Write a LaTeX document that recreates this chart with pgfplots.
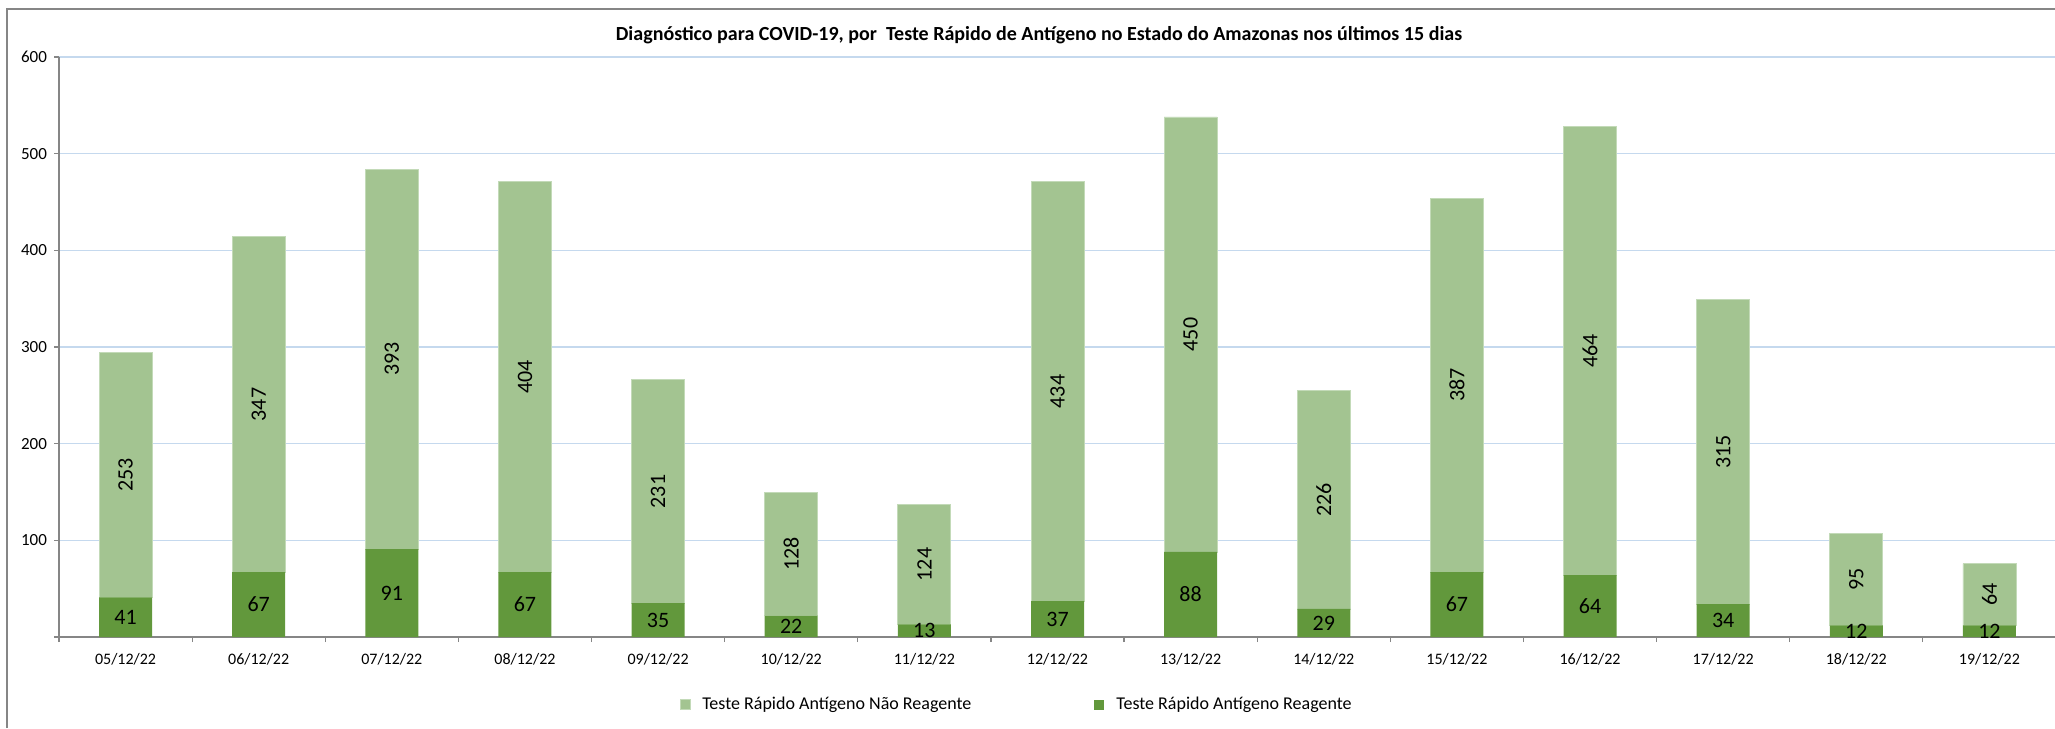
\documentclass[border=0pt]{standalone}
\usepackage{fontspec}
\setmainfont{Carlito}
\usepackage{pgfplots}
\usepackage{pgfplotstable}
\pgfplotsset{compat=1.18}
\definecolor{darkg}{RGB}{98,152,60}
\definecolor{lightg}{RGB}{163,196,145}
\definecolor{lightgb}{RGB}{195,218,184}
\definecolor{gridb}{RGB}{197,217,238}
\definecolor{axg}{RGB}{134,134,134}
\pgfplotstableread{
x r nr
0 41 253
1 67 347
2 91 393
3 67 404
4 35 231
5 22 128
6 13 124
7 37 434
8 88 450
9 29 226
10 67 387
11 64 464
12 34 315
13 12 95
14 12 64
}\data
\begin{document}
\begin{tikzpicture}[x=1pt,y=1pt]
\useasboundingbox (0,0) rectangle (1027.5,364);
\draw[axg, line width=0.7pt] (3.5,0) -- (3.5,359.5) -- (1027.5,359.5);
\node[font=\bfseries\fontsize{10}{12}\selectfont] at (519.5,346.5) {Diagnóstico para COVID-19, por \ Teste Rápido de Antígeno no Estado do Amazonas nos últimos 15 dias};
\begin{axis}[
  at={(29.5pt,45.5pt)}, anchor=south west,
  scale only axis, width=998.5pt, height=290pt,
  xmin=-0.5, xmax=14.5, ymin=0, ymax=600,
  ybar stacked, bar width=26.5pt,
  ytick={0,100,...,600},
  yticklabels={,100,200,300,400,500,600},
  xtick={-0.5,0.5,...,14.5},
  xticklabels={05/12/22,06/12/22,07/12/22,08/12/22,09/12/22,10/12/22,11/12/22,12/12/22,13/12/22,14/12/22,15/12/22,16/12/22,17/12/22,18/12/22,19/12/22,},
  xticklabel style={xshift=33.28pt, font=\fontsize{8}{10}\selectfont, yshift=-2pt},
  yticklabel style={font=\fontsize{8.5}{10}\selectfont},
  /pgf/number format/assume math mode=true,
  ymajorgrids, grid style={gridb, line width=0.8pt},
  axis x line*=bottom, axis y line*=left,
  axis line style={axg, line width=0.8pt},
  tick style={axg, line width=0.6pt},
  tick align=outside, major tick length=2.5pt,
  reverse legend,
  legend columns=2,
  legend style={at={(0.48,-0.117)}, anchor=center, draw=none, fill=none,
    font=\fontsize{9}{11}\selectfont,
    /tikz/every odd column/.append style={column sep=4pt},
    /tikz/every even column/.append style={column sep=59.5pt}},
  legend image code/.code={\fill[#1] (0pt,-2.5pt) rectangle (5pt,2.5pt);},
]
\addplot[fill=darkg, draw=none,
  nodes near coords={\pgfmathprintnumber\pgfplotspointmeta},
  point meta=explicit,
  every node near coord/.append style={anchor=center, font=\fontsize{11}{13}\selectfont, black}
] table[x=x, y=r, meta=r] {\data};
\addlegendentry{Teste Rápido Antígeno Reagente}
\addplot[fill=lightg, draw=lightgb, line width=0.4pt,
  nodes near coords={\pgfmathprintnumber\pgfplotspointmeta},
  point meta=explicit,
  every node near coord/.append style={anchor=center, rotate=90, font=\fontsize{11}{13}\selectfont, black}
] table[x=x, y=nr, meta=nr] {\data};
\addlegendentry{Teste Rápido Antígeno Não Reagente}
\end{axis}
\end{tikzpicture}
\end{document}
